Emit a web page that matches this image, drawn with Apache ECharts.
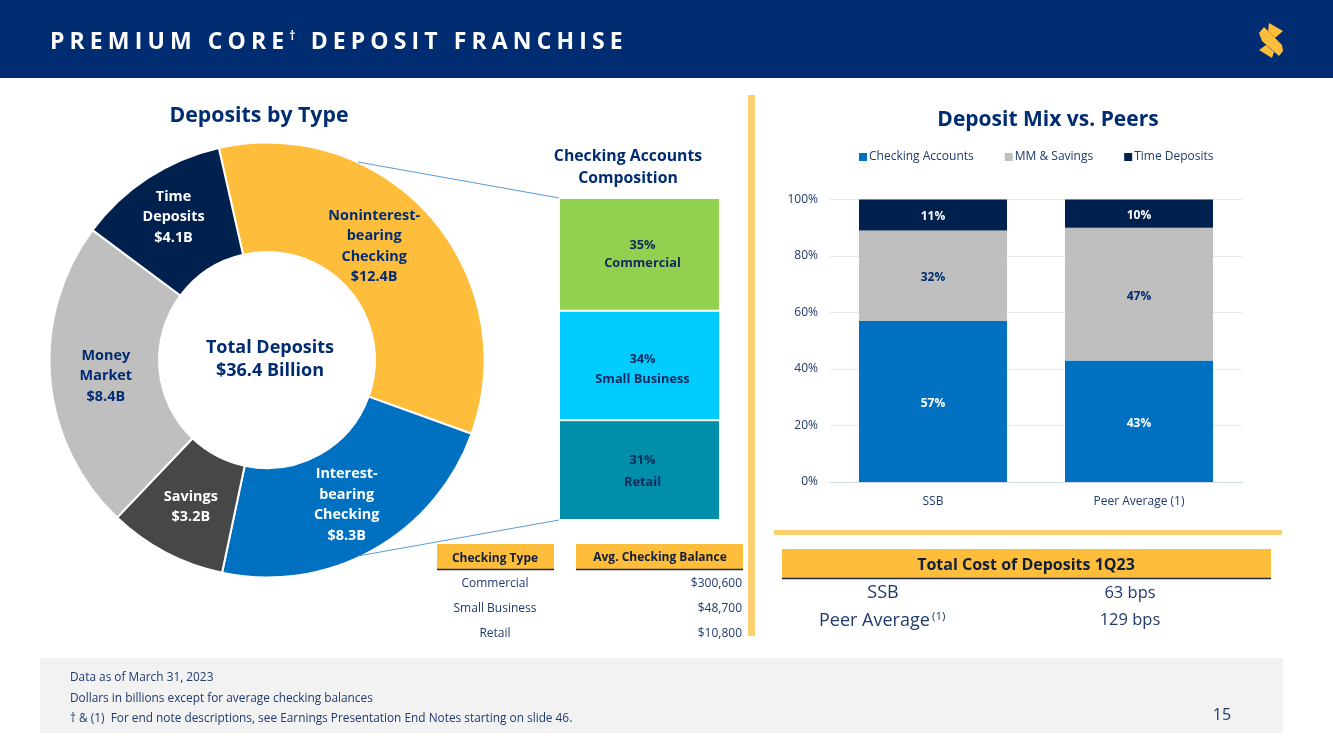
<!DOCTYPE html>
<html><head><meta charset="utf-8">
<script src="https://cdn.jsdelivr.net/npm/echarts@6/dist/echarts.min.js"></script>
<style>
html,body{margin:0;padding:0;background:#fff;overflow:hidden}
#chart{position:absolute;left:0;top:0;width:1333px;height:749px}
#head{position:absolute;left:50px;top:23px;color:#fff;font:700 23px/34px "Open Sans",sans-serif;letter-spacing:5.12px;white-space:pre;z-index:5}
#head sup{font-size:12px;line-height:0;vertical-align:9px;letter-spacing:4px}
</style></head><body>
<div id="chart"></div>
<div id="head">PREMIUM CORE<sup>†</sup> DEPOSIT FRANCHISE</div>
<script>
const FONT = '"Open Sans", sans-serif';
const NAVY = '#002d72', TEXT = '#1f3a6e', DARK = '#0f1f3a', GOLD = '#ffbd3c', RULE = '#fdcf70';

// Donut
const depositNames = ['Noninterest-\nbearing\nChecking', 'Interest-\nbearing\nChecking', 'Savings', 'Money\nMarket', 'Time\nDeposits'];
const depositValues = [12.4, 8.3, 3.2, 8.4, 4.1];
const depositColors = ['#ffbd3c', '#0070c0', '#474747', '#bfbfbf', '#00204e'];
const depositLabelColors = [NAVY, '#fff', '#fff', NAVY, '#fff'];
const depositLabelOffsets = [[-17, -4], [-1, 0], [1, 0], [4, 2], [-3, -4]];

// Composition column
const compNames = ['Retail', 'Small Business', 'Commercial'];
const compValues = [31, 34, 35];
const compColors = ['#008eaa', '#00ccff', '#92d050'];
const compLabelOffsets = [[3, 1.5], [3, 4], [3, 0]];
const compLabelLines = [22, 20, 18];

// Peers mix
const peerCats = ['SSB', 'Peer Average (1)'];
const peerTicks = [0, 20, 40, 60, 80, 100];
const checkingAccounts = [57, 43];
const mmSavings = [32, 47];
const timeDeposits = [11, 10];

// Tables
const checkTypes = ['Commercial', 'Small Business', 'Retail'];
const checkBalances = ['$300,600', '$48,700', '$10,800'];
const costNames = ['SSB', 'Peer Average'];
const costValues = ['63 bps', '129 bps'];
const notes = ['Data as of March 31, 2023', 'Dollars in billions except for average checking balances', '† & (1)  For end note descriptions, see Earnings Presentation End Notes starting on slide 46.'];

const txt = (text, x, y, size, fill, weight, align) => ({type:'text', z:10, style:{text, x, y:y + 2, fontSize:size, fontFamily:FONT, fontWeight:weight||400, fill, align:align||'center', verticalAlign:'middle'}});
const rect = (x, y, w, h, fill) => ({type:'rect', z:1, shape:{x, y, width:w, height:h}, style:{fill}});
const line = (x1, y1, x2, y2, stroke, w) => ({type:'line', z:3, shape:{x1, y1, x2, y2}, style:{stroke, lineWidth:w}});

const g = [
  rect(0, 0, 1333, 78, NAVY),
  {type:'polygon', z:4, shape:{points:[[1269,23],[1283,31],[1275,38],[1268,31]]}, style:{fill:GOLD}},
  {type:'polygon', z:4, shape:{points:[[1259,33],[1264,27],[1282,45],[1283,51],[1279,56],[1262,41]]}, style:{fill:GOLD}},
  {type:'polygon', z:4, shape:{points:[[1259,50],[1266,45],[1274,52],[1272,58]]}, style:{fill:GOLD}},
  rect(748, 95, 7, 541, RULE),
  rect(774, 530, 508, 5, RULE),
  line(358, 162, 559, 198, '#5b9bd5', 1),
  line(358, 556, 559, 520, '#5b9bd5', 1),
  txt('Total Deposits', 270, 346, 18, NAVY, 700),
  txt('$36.4 Billion', 270, 369, 18, NAVY, 700),
  rect(437, 544, 117, 25, GOLD), line(437, 569.5, 554, 569.5, '#1c2b4a', 1.5),
  rect(576, 544, 167, 25, GOLD), line(576, 569.5, 743, 569.5, '#1c2b4a', 1.5),
  txt('Checking Type', 495, 557, 12, DARK, 700),
  txt('Avg. Checking Balance', 660, 556, 12, DARK, 700),
  rect(782, 549, 489, 29, GOLD), line(782, 578.5, 1271, 578.5, '#1c2b4a', 1.5),
  txt('Total Cost of Deposits 1Q23', 1026, 563, 16, DARK, 700),
  txt(costNames[0], 883, 591, 18, TEXT),
  txt(costValues[0], 1130, 591, 16.5, TEXT),
  txt(costNames[1], 819, 619, 18, TEXT, 400, 'left'),
  txt('(1)', 932, 615, 11.5, TEXT, 400, 'left'),
  txt(costValues[1], 1130, 618, 16.5, TEXT),
  rect(40, 658, 1243, 75, '#f2f2f2'),
  txt('15', 1222, 713, 16, TEXT)
];
checkTypes.forEach((t, i) => g.push(txt(t, 495, 582 + i * 25, 12, TEXT)));
checkBalances.forEach((t, i) => g.push(txt(t, 742, 582 + i * 25, 12, TEXT, 400, 'right')));
notes.forEach((t, i) => g.push(txt(t, 70, 676 + i * 20.5, 11.85, TEXT, 400, 'left')));

const peerLabel = color => ({show:true, position:'inside', offset:[0,2], color, fontSize:12, fontWeight:700, fontFamily:FONT, formatter:p => p.value + '%'});
const peerBar = (name, data, color, labelColor) => ({name, type:'bar', stack:'mix', xAxisIndex:1, yAxisIndex:1, data, barWidth:148, itemStyle:{color}, label:peerLabel(labelColor)});

const option = {
  animation:false,
  textStyle:{fontFamily:FONT},
  title:[
    {text:'Deposits by Type', left:254, top:100, textAlign:'center', textStyle:{color:NAVY, fontSize:21.3, fontWeight:700, fontFamily:FONT}},
    {text:'Deposit Mix vs. Peers', left:1043, top:105, textAlign:'center', textStyle:{color:NAVY, fontSize:21, fontWeight:700, fontFamily:FONT}},
    {text:'Checking Accounts\nComposition', left:623, top:140, textAlign:'center', textStyle:{color:NAVY, fontSize:15.8, fontWeight:700, fontFamily:FONT, lineHeight:22}}
  ],
  legend:{left:854, top:146, data:['Checking Accounts', 'MM & Savings', 'Time Deposits'], icon:'rect', itemWidth:8, itemHeight:8, itemGap:31,
    textStyle:{color:TEXT, fontSize:12, fontFamily:FONT, padding:[0,0,0,-3]}},
  grid:[
    {left:559, width:161, top:198, height:322, containLabel:false},
    {left:830, width:412, top:199.5, height:282.5, containLabel:false}
  ],
  xAxis:[
    {type:'category', gridIndex:0, data:['Checking'], show:false},
    {type:'category', gridIndex:1, data:peerCats, axisTick:{show:false}, axisLine:{lineStyle:{color:'#cfd9e8'}},
      axisLabel:{color:TEXT, fontSize:12, fontFamily:FONT, margin:14}}
  ],
  yAxis:[
    {type:'value', gridIndex:0, min:0, max:100, show:false},
    {type:'value', gridIndex:1, min:0, max:100, interval:20, axisLine:{show:false}, axisTick:{show:false},
      splitLine:{lineStyle:{color:'#e9e9e9'}},
      axisLabel:{color:TEXT, fontSize:12, fontFamily:FONT, margin:12, lineHeight:16, verticalAlign:'middle', padding:[3,0,0,0], formatter:v => peerTicks.includes(v) ? v + '%' : ''}}
  ],
  series:[
    {type:'pie', center:[267,360], radius:[108,217.5], startAngle:102.8, clockwise:true, silent:true,
      itemStyle:{borderColor:'#fff', borderWidth:2},
      labelLine:{show:false},
      label:{position:'inside', fontFamily:FONT, fontSize:14.4, fontWeight:700, lineHeight:20.5},
      data:depositValues.map((value, i) => ({name:depositNames[i], value,
        itemStyle:{color:depositColors[i]},
        label:{color:depositLabelColors[i], offset:depositLabelOffsets[i], formatter:p => p.name + '\n$' + p.value.toFixed(1) + 'B'}}))},
    ...compNames.map((name, i) => ({name, type:'bar', stack:'comp', xAxisIndex:0, yAxisIndex:0, barWidth:161,
      data:[compValues[i]], itemStyle:{color:compColors[i], borderColor:'#fff', borderWidth:1},
      label:{show:true, position:'inside', offset:compLabelOffsets[i], color:'#0f2a5c', fontFamily:FONT, fontSize:12.8, fontWeight:700, lineHeight:compLabelLines[i], formatter:p => p.value + '%\n' + p.seriesName}})),
    peerBar('Checking Accounts', checkingAccounts, '#0070c0', '#fff'),
    peerBar('MM & Savings', mmSavings, '#bfbfbf', NAVY),
    peerBar('Time Deposits', timeDeposits, '#00204e', '#fff')
  ],
  graphic:g
};
echarts.init(document.getElementById('chart'), null, {width:1333, height:749}).setOption(option);
</script>
</body></html>
